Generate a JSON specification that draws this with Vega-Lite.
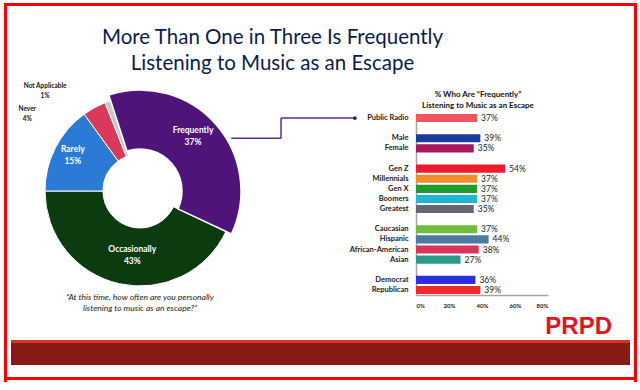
{
  "$schema": "https://vega.github.io/schema/vega-lite/v6.json",
  "background": "white",
  "padding": {"left": 4, "top": 3, "right": 3, "bottom": 5},
  "config": {"font": "Lato", "view": {"stroke": null}},
  "datasets": {
    "pie": [
      {"answer": "Frequently", "pct": 37, "ord": 1, "label": ["Frequently", "37%"]},
      {"answer": "Occasionally", "pct": 43, "ord": 2, "label": ["Occasionally", "43%"]},
      {"answer": "Rarely", "pct": 15, "ord": 3, "label": ["Rarely", "15%"]},
      {"answer": "Never", "pct": 4, "ord": 4, "label": ["Never", "4%"]},
      {"answer": "Not Applicable", "pct": 1, "ord": 5, "label": ["Not Applicable", "1%"]}
    ],
    "bars": [
      {"group": "Public Radio", "share": 0.37},
      {"group": "Male", "share": 0.39},
      {"group": "Female", "share": 0.35},
      {"group": "Gen Z", "share": 0.54},
      {"group": "Millennials", "share": 0.37},
      {"group": "Gen X", "share": 0.37},
      {"group": "Boomers", "share": 0.37},
      {"group": "Greatest", "share": 0.35},
      {"group": "Caucasian", "share": 0.37},
      {"group": "Hispanic", "share": 0.44},
      {"group": "African-American", "share": 0.38},
      {"group": "Asian", "share": 0.27},
      {"group": "Democrat", "share": 0.36},
      {"group": "Republican", "share": 0.39}
    ],
    "one": [{}]
  },
  "spacing": 0,
  "hconcat": [
    {"width": 3, "height": 379, "data": {"name": "one"}, "mark": {"type": "rect", "color": "#ff0000"}},
    {
      "spacing": 12,
      "center": true,
      "vconcat": [
        {
          "spacing": 22,
          "center": true,
          "vconcat": [
            {"width": 627, "height": 3, "data": {"name": "one"}, "mark": {"type": "rect", "color": "#ff0000"}},
            {
              "title": {
                "text": ["More Than One in Three Is Frequently", "Listening to Music as an Escape"],
                "fontSize": 20.5,
                "fontWeight": "normal",
                "color": "#0c1c4e",
                "anchor": "middle",
                "frame": "bounds",
                "dx": -48,
                "offset": 8,
                "lineHeight": 26
              },
              "spacing": 2,
              "vconcat": [
                {
                  "spacing": 147,
                  "bounds": "flush",
                  "resolve": {"scale": {"color": "independent"}},
                  "hconcat": [
                    {
                      "width": 258,
                      "height": 156,
                      "data": {"name": "pie"},
                      "title": {
                        "text": ["\u201cAt this time, how often are you personally", "listening to music as an escape?\u201d"],
                        "orient": "bottom",
                        "fontSize": 8.5,
                        "fontStyle": "italic",
                        "fontWeight": "normal",
                        "color": "#1a1a1a",
                        "offset": 1,
                        "lineHeight": 11
                      },
                      "encoding": {
                        "theta": {"field": "pct", "type": "quantitative", "stack": true, "scale": {"domain": [0, 100], "range": [-0.314, 5.969]}},
                        "order": {"field": "ord", "type": "quantitative"},
                        "color": {
                          "field": "answer",
                          "type": "nominal",
                          "scale": {
                            "domain": ["Frequently", "Occasionally", "Rarely", "Never", "Not Applicable"],
                            "range": ["#4f1479", "#0d3b10", "#2b7ad6", "#d93a5c", "#c8c8c8"]
                          },
                          "legend": null
                        }
                      },
                      "layer": [
                        {
                          "mark": {"type": "arc", "innerRadius": 37, "outerRadius": 95, "stroke": "white", "strokeWidth": 1},
                          "encoding": {"opacity": {"condition": {"test": "datum.answer === 'Frequently'", "value": 0}, "value": 1}}
                        },
                        {
                          "mark": {"type": "arc", "innerRadius": 42, "outerRadius": 101, "stroke": "white", "strokeWidth": 1.5},
                          "encoding": {"opacity": {"condition": {"test": "datum.answer === 'Frequently'", "value": 1}, "value": 0}}
                        },
                        {
                          "mark": {"type": "text", "radius": 72, "dx": -1, "dy": -13, "fontSize": 8.5, "fontWeight": "bold", "lineHeight": 12},
                          "encoding": {
                            "color": {"value": "white"},
                            "text": {"condition": {"test": "datum.ord === 1", "field": "label", "type": "nominal"}, "value": ""}
                          }
                        },
                        {
                          "mark": {"type": "text", "radius": 72, "dx": 8, "dy": -12, "fontSize": 8.5, "fontWeight": "bold", "lineHeight": 12},
                          "encoding": {
                            "color": {"value": "white"},
                            "text": {"condition": {"test": "datum.ord === 2", "field": "label", "type": "nominal"}, "value": ""}
                          }
                        },
                        {
                          "mark": {"type": "text", "radius": 72, "dx": -3, "dy": -9, "fontSize": 8.5, "fontWeight": "bold", "lineHeight": 12},
                          "encoding": {
                            "color": {"value": "white"},
                            "text": {"condition": {"test": "datum.ord === 3", "field": "label", "type": "nominal"}, "value": ""}
                          }
                        },
                        {
                          "transform": [{"filter": "datum.ord === 5"}],
                          "mark": {"type": "text", "radius": 100, "dx": -67, "dy": -9, "fontSize": 6.5, "fontWeight": "bold", "lineHeight": 10},
                          "encoding": {
                            "color": {"value": "#111111"},
                            "text": {"field": "label", "type": "nominal"}
                          }
                        },
                        {
                          "transform": [{"filter": "datum.ord === 4"}],
                          "mark": {"type": "text", "radius": 100, "dx": -94, "dy": 16, "fontSize": 6.5, "fontWeight": "bold", "lineHeight": 10},
                          "encoding": {
                            "color": {"value": "#111111"},
                            "text": {"field": "label", "type": "nominal"}
                          }
                        }
                      ]
                    },
                    {
                      "width": 132,
                      "height": 182,
                      "data": {"name": "bars"},
                      "title": {
                        "text": ["% Who Are \u201cFrequently\u201d", "Listening to Music as an Escape"],
                        "fontSize": 8,
                        "fontWeight": "bold",
                        "color": "#111111",
                        "frame": "group",
                        "anchor": "middle",
                        "dx": -4,
                        "offset": 3,
                        "lineHeight": 11
                      },
                      "encoding": {
                        "y": {
                          "field": "group",
                          "type": "nominal",
                          "sort": null,
                          "scale": {
                            "domain": ["Public Radio", " ", "Male", "Female", "  ", "Gen Z", "Millennials", "Gen X", "Boomers", "Greatest", "   ", "Caucasian", "Hispanic", "African-American", "Asian", "    ", "Democrat", "Republican"],
                            "paddingInner": 0.2,
                            "paddingOuter": 0.1
                          },
                          "axis": {"title": null, "ticks": false, "domainColor": "#a6a6a6", "domainWidth": 1.5, "labelFontSize": 7.5, "labelFontWeight": "bold", "labelColor": "#1a1a1a", "labelPadding": 8}
                        },
                        "x": {
                          "field": "share",
                          "type": "quantitative",
                          "scale": {"domain": [0, 0.8]},
                          "axis": {"title": null, "format": ".0%", "values": [0, 0.2, 0.4, 0.6, 0.8], "ticks": false, "grid": false, "domainColor": "#a6a6a6", "domainWidth": 1.5, "labelFontSize": 6, "labelFontWeight": "bold", "labelColor": "#1a1a1a", "labelPadding": 7}
                        }
                      },
                      "layer": [
                        {
                          "mark": {"type": "bar"},
                          "encoding": {
                            "color": {
                              "field": "group",
                              "type": "nominal",
                              "scale": {
                                "domain": ["Public Radio", "Male", "Female", "Gen Z", "Millennials", "Gen X", "Boomers", "Greatest", "Caucasian", "Hispanic", "African-American", "Asian", "Democrat", "Republican"],
                                "range": ["#f2545b", "#1c3c9a", "#a8175f", "#ee1b2c", "#f08c2a", "#1f9a2c", "#22b6d6", "#6b6470", "#70bd3c", "#4a7c9d", "#d8345c", "#2a9a8a", "#2c2ee0", "#f0282a"]
                              },
                              "legend": null
                            }
                          }
                        },
                        {
                          "mark": {"type": "text", "align": "left", "dx": 4, "fontSize": 8.5, "color": "#1a1a1a"},
                          "encoding": {"text": {"field": "share", "type": "quantitative", "format": ".0%"}}
                        },
                        {
                          "transform": [{"filter": "datum.group === 'Male'"}],
                          "mark": {"type": "rule", "color": "#5a2d8c", "strokeWidth": 1.5},
                          "encoding": {"x": {"datum": -1.12}, "x2": {"datum": -0.818}}
                        },
                        {
                          "transform": [{"filter": "datum.group === 'Public Radio'"}],
                          "mark": {"type": "rule", "color": "#5a2d8c", "strokeWidth": 1.5},
                          "encoding": {"x": {"datum": -0.818}, "y2": {"datum": "Male"}}
                        },
                        {
                          "transform": [{"filter": "datum.group === 'Public Radio'"}],
                          "mark": {"type": "rule", "color": "#5a2d8c", "strokeWidth": 1.5},
                          "encoding": {"x": {"datum": -0.818}, "x2": {"datum": -0.37}}
                        },
                        {
                          "transform": [{"filter": "datum.group === 'Public Radio'"}],
                          "mark": {"type": "point", "filled": true, "color": "#3d1766", "size": 14, "opacity": 1},
                          "encoding": {"x": {"datum": -0.37}}
                        }
                      ]
                    }
                  ]
                },
                {
                  "title": {
                    "text": "PRPD",
                    "font": "Liberation Sans",
                    "fontSize": 24,
                    "fontWeight": "bold",
                    "color": "#e4141b",
                    "anchor": "end",
                    "frame": "bounds",
                    "dx": -18,
                    "offset": 1
                  },
                  "spacing": 0,
                  "vconcat": [
                    {"width": 619, "height": 3, "data": {"name": "one"}, "mark": {"type": "rect", "color": "#d2391c"}},
                    {"width": 619, "height": 22, "data": {"name": "one"}, "mark": {"type": "rect", "color": "#8a1a15"}}
                  ]
                }
              ]
            }
          ]
        },
        {"width": 627, "height": 3, "data": {"name": "one"}, "mark": {"type": "rect", "color": "#ff0000"}}
      ]
    },
    {"width": 3, "height": 379, "data": {"name": "one"}, "mark": {"type": "rect", "color": "#ff0000"}}
  ]
}
